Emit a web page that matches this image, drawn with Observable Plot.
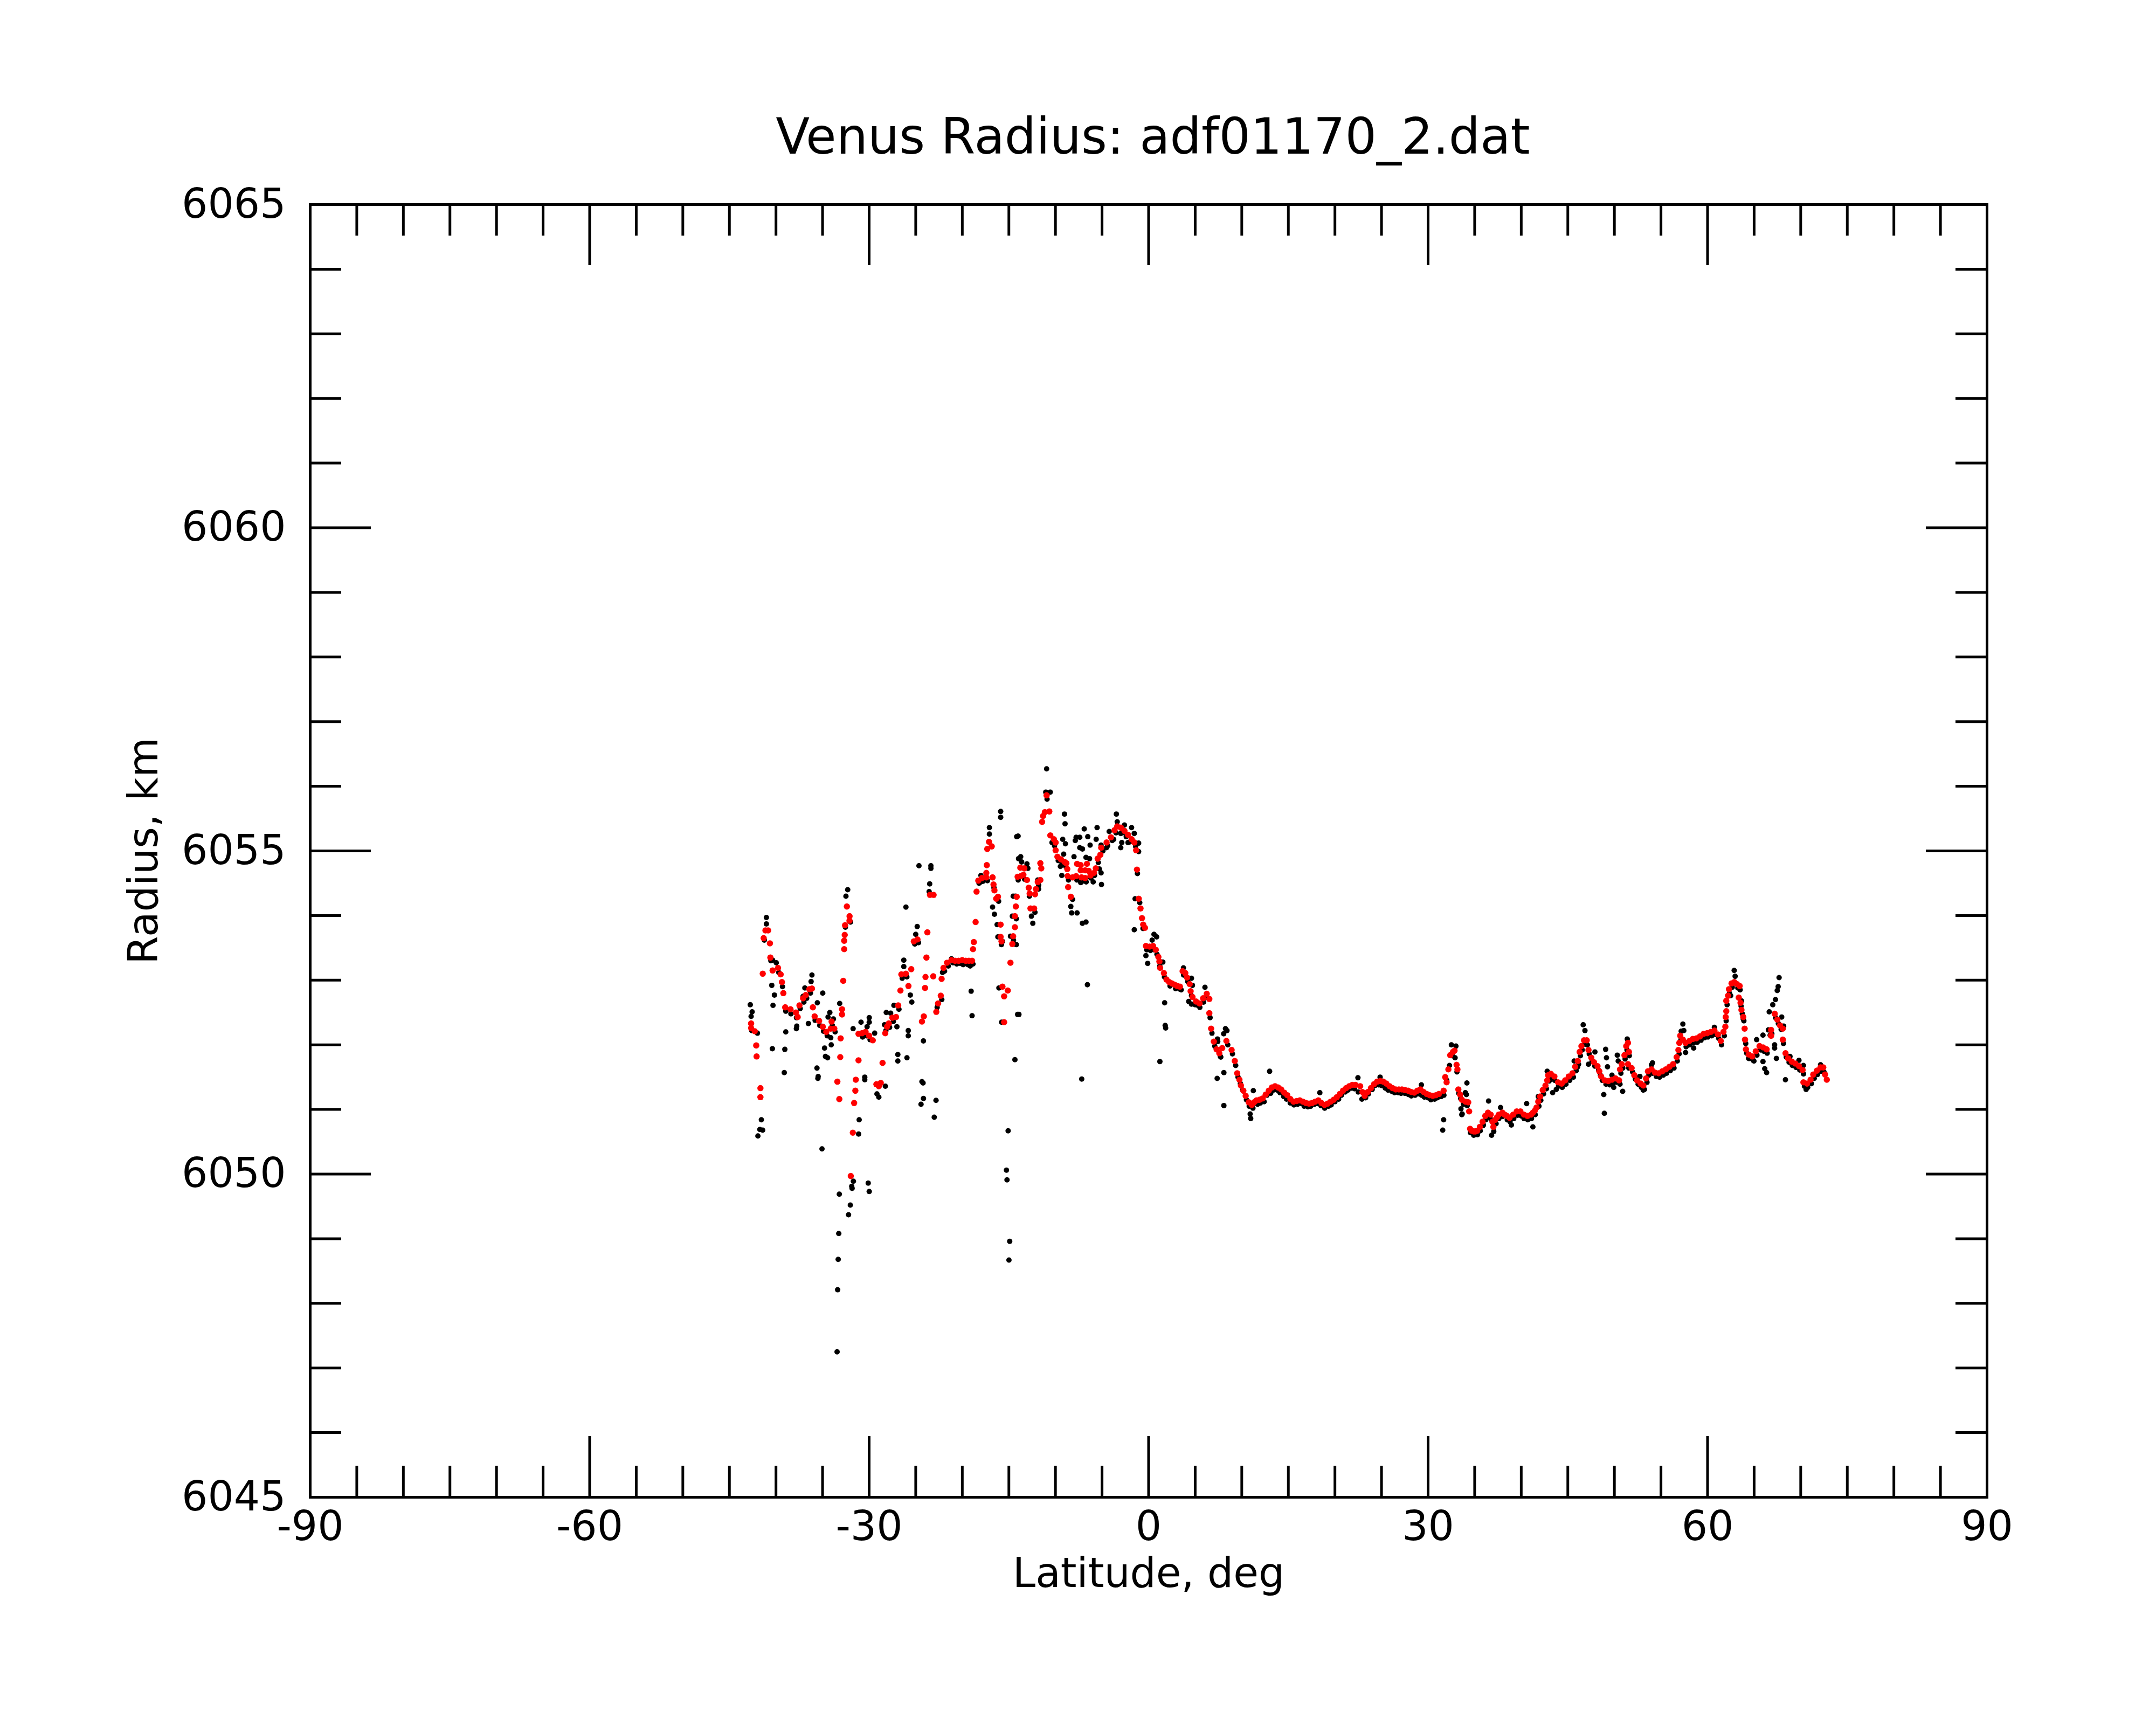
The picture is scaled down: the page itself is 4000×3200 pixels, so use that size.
<!DOCTYPE html>
<html>
<head>
<meta charset="utf-8">
<script src="https://cdn.jsdelivr.net/npm/d3@7"></script>
<script src="https://cdn.jsdelivr.net/npm/@observablehq/plot@0.6"></script>
<style>
  html, body { margin: 0; padding: 0; background: #ffffff; }
</style>
</head>
<body>
<div id="chart"></div>
<script>
// ---- texts ----
const title = "Venus Radius: adf01170_2.dat";
const xLabel = "Latitude, deg";
const yLabel = "Radius, km";

// ---- tick labels ----
const xTickLabels = [-90, -60, -30, 0, 30, 60, 90];
const yTickLabels = [6045, 6050, 6055, 6060, 6065];
const xMinorTicks = [-85,-80,-75,-70,-65,-55,-50,-45,-40,-35,-25,-20,-15,-10,-5,5,10,15,20,25,35,40,45,50,55,65,70,75,80,85];
const xMajorTicks = [-60, -30, 0, 30, 60];
const yMinorTicks = [6046,6047,6048,6049,6051,6052,6053,6054,6056,6057,6058,6059,6061,6062,6063,6064];
const yMajorTicks = [6050, 6055, 6060];

// ---- smoothed radius (red), [latitude deg, radius km] ----
const smoothed = [
[-42.67,6052.33],[-42.67,6052.26],[-42.28,6052.21],[-42.12,6051.99],[-42.08,6051.82],[-41.67,6051.33],[-41.67,6051.19],
[-41.42,6053.10],[-41.32,6053.65],[-41.13,6053.77],[-40.84,6053.77],[-40.65,6053.57],[-40.60,6053.35],[-40.36,6053.15],
[-39.78,6053.19],[-39.50,6053.09],[-39.36,6052.97],[-39.21,6052.80],[-39.01,6052.58],[-38.44,6052.55],[-37.86,6052.50],
[-37.67,6052.43],[-37.48,6052.61],[-37.09,6052.72],[-36.80,6052.77],[-36.42,6052.86],[-36.14,6052.87],[-36.04,6052.58],
[-35.85,6052.44],[-35.37,6052.37],[-34.98,6052.28],[-34.60,6052.20],[-34.12,6052.25],[-34.03,6052.36],[-33.74,6052.25],
[-33.41,6051.43],[-33.20,6051.16],[-33.10,6051.81],[-33.06,6052.10],[-32.91,6052.55],[-32.91,6052.47],[-32.78,6052.99],
[-32.68,6053.48],[-32.68,6053.61],[-32.62,6053.70],[-32.58,6053.85],[-32.39,6054.14],[-32.10,6053.99],[-32.11,6053.92],
[-31.97,6049.97],[-31.75,6050.64],[-31.61,6051.10],[-31.48,6051.29],[-31.43,6051.46],[-31.14,6051.76],[-31.14,6052.17],
[-30.76,6052.18],[-30.38,6052.20],[-30.00,6052.14],[-29.61,6052.07],[-29.22,6051.39],[-28.96,6051.36],[-28.75,6051.41],
[-28.56,6051.72],[-28.27,6052.18],[-28.08,6052.28],[-27.89,6052.33],[-27.51,6052.42],[-27.11,6052.43],[-26.88,6052.61],
[-26.64,6052.84],[-26.54,6053.09],[-26.06,6053.10],[-25.78,6052.91],[-25.48,6053.17],[-25.20,6053.60],[-24.81,6053.63],
[-24.33,6052.36],[-24.13,6052.44],[-24.00,6052.88],[-23.95,6053.05],[-23.85,6053.35],[-23.75,6053.74],[-23.47,6054.32],
[-23.08,6054.32],[-23.12,6053.06],[-22.79,6052.51],[-22.60,6052.64],[-22.31,6052.76],[-22.22,6053.02],[-22.02,6053.19],
[-21.64,6053.27],[-21.16,6053.31],[-20.78,6053.30],[-20.39,6053.30],[-20.01,6053.31],[-19.63,6053.30],[-19.29,6053.30],[-18.95,6053.30],
[-18.85,6053.48],[-18.76,6053.59],[-18.57,6053.90],[-18.47,6054.37],[-18.28,6054.54],[-17.90,6054.58],[-17.42,6054.59],
[-17.42,6054.66],[-17.37,6054.78],[-17.32,6055.03],[-17.13,6055.14],[-16.84,6055.07],[-16.75,6054.59],[-16.65,6054.48],
[-16.55,6054.39],[-16.36,6054.26],[-16.17,6054.29],[-15.89,6053.86],[-15.89,6053.67],[-15.79,6053.60],[-15.69,6052.90],
[-15.51,6052.75],[-15.12,6052.84],[-15.51,6052.35],[-14.83,6053.27],[-14.63,6053.56],[-14.54,6053.68],[-14.35,6053.82],
[-14.35,6053.99],[-14.25,6054.14],[-14.16,6054.29],[-14.06,6054.60],[-13.77,6054.74],[-13.73,6054.61],[-13.44,6054.63],
[-13.34,6054.73],[-13.06,6054.55],[-12.87,6054.43],[-12.77,6054.34],[-12.68,6054.11],[-12.29,6054.11],[-12.19,6054.33],
[-12.09,6054.41],[-11.90,6054.52],[-11.62,6054.55],[-11.62,6054.81],[-11.52,6054.73],[-11.43,6055.45],[-11.33,6055.54],
[-11.14,6055.60],[-10.95,6055.86],[-10.66,6055.61],[-10.55,6055.24],[-10.17,6055.18],[-9.98,6055.13],[-9.98,6055.01],
[-9.79,6054.91],[-9.41,6054.87],[-9.03,6054.83],[-8.83,6054.81],[-8.73,6054.72],[-8.69,6054.61],[-8.64,6054.44],
[-8.35,6054.29],[-8.16,6054.59],[-7.78,6054.61],[-7.68,6054.80],[-7.29,6054.78],[-7.29,6054.70],[-7.20,6054.59],
[-6.81,6054.58],[-6.81,6054.70],[-6.62,6054.80],[-6.43,6054.69],[-6.24,6054.62],[-5.86,6054.66],[-5.67,6054.73],
[-5.47,6054.88],[-5.18,6054.94],[-5.09,6055.05],[-4.51,6055.13],[-4.04,6055.21],[-3.66,6055.32],[-3.37,6055.38],
[-2.98,6055.36],[-2.59,6055.31],[-2.21,6055.25],[-1.82,6055.18],[-1.53,6055.13],[-1.34,6055.01],[-1.25,6054.71],
[-1.06,6054.26],[-0.87,6054.11],[-0.71,6053.96],[-0.58,6053.86],[-0.39,6053.81],[-0.29,6053.53],[0.10,6053.52],
[0.48,6053.53],[0.77,6053.47],[1.05,6053.36],[1.16,6053.29],[1.24,6053.19],[1.64,6053.11],[1.92,6053.01],
[2.21,6052.97],[2.50,6052.95],[2.79,6052.93],[3.08,6052.91],[3.36,6052.90],[3.65,6053.14],[3.94,6053.11],[4.13,6053.04],[4.41,6052.94],
[4.51,6052.83],[4.71,6052.74],[5.09,6052.67],[5.47,6052.64],[5.85,6052.72],[6.24,6052.79],[6.52,6052.71],
[6.52,6052.49],[6.71,6052.25],[7.00,6052.05],[7.30,6051.93],[7.59,6051.87],[7.90,6051.95],[8.35,6052.06],[8.91,6051.92],[9.25,6051.75],
[9.51,6051.56],[9.75,6051.46],[9.91,6051.37],[10.17,6051.29],[10.42,6051.21],[10.75,6051.11],[11.08,6051.07],[11.32,6051.11],[11.57,6051.14],
[11.90,6051.15],[12.24,6051.17],[12.57,6051.23],[12.90,6051.29],[13.24,6051.34],[13.57,6051.36],[13.90,6051.34],[14.23,6051.31],[14.56,6051.26],[14.89,6051.22],
[15.22,6051.16],[15.56,6051.12],[15.89,6051.13],[16.23,6051.14],[16.56,6051.12],[16.89,6051.10],[17.22,6051.09],[17.55,6051.10],[17.88,6051.12],[18.22,6051.14],
[18.55,6051.10],[18.88,6051.07],[19.21,6051.09],[19.54,6051.12],[19.87,6051.15],[20.21,6051.19],[20.54,6051.24],[20.87,6051.29],[21.20,6051.33],[21.54,6051.36],
[21.87,6051.38],[22.20,6051.38],[22.71,6051.36],[22.95,6051.27],[23.20,6051.21],[23.53,6051.27],[23.86,6051.33],[24.20,6051.39],[24.53,6051.43],[24.86,6051.44],
[25.19,6051.43],[25.52,6051.40],[25.86,6051.36],[26.19,6051.33],[26.53,6051.31],[26.86,6051.31],[27.19,6051.31],[27.52,6051.30],[27.86,6051.29],[28.19,6051.27],
[28.52,6051.26],[28.85,6051.29],[29.18,6051.31],[29.52,6051.27],[29.85,6051.24],[30.18,6051.22],[30.51,6051.21],[30.84,6051.22],[31.17,6051.24],[31.67,6051.29],
[31.84,6051.50],[31.99,6051.42],[32.18,6051.62],[32.38,6051.84],[32.67,6051.89],[32.84,6051.91],[33.06,6051.69],
[33.15,6051.62],[33.25,6051.31],[33.44,6051.23],[33.63,6051.15],[34.02,6051.12],[34.31,6051.11],[34.41,6050.97],
[34.51,6050.70],[34.70,6050.67],[34.89,6050.66],[35.08,6050.66],[35.27,6050.67],[35.56,6050.73],[35.85,6050.81],[36.14,6050.90],[36.43,6050.95],
[36.72,6050.92],[36.91,6050.81],[37.01,6050.73],[37.20,6050.84],[37.40,6050.88],[37.59,6050.92],[37.98,6050.95],[38.22,6050.92],[38.46,6050.90],
[38.75,6050.87],[39.14,6050.92],[39.52,6050.97],[39.91,6050.97],[40.29,6050.92],[40.67,6050.90],[41.06,6050.92],
[41.25,6050.95],[41.45,6050.98],[41.64,6051.03],[41.83,6051.12],[42.03,6051.20],[42.31,6051.30],[42.60,6051.37],[42.79,6051.45],
[42.89,6051.53],[43.18,6051.55],[43.56,6051.51],[43.95,6051.42],[44.34,6051.40],[44.72,6051.45],[45.10,6051.51],
[45.50,6051.56],[45.79,6051.66],[46.07,6051.75],[46.27,6051.89],[46.46,6051.98],[46.74,6052.07],[47.03,6052.07],
[47.22,6051.92],[47.52,6051.80],[47.81,6051.73],[48.19,6051.67],[48.38,6051.59],[48.58,6051.51],[48.96,6051.45],
[49.35,6051.44],[49.74,6051.46],[50.12,6051.48],[50.50,6051.45],[50.60,6051.62],[50.79,6051.70],[51.08,6051.84],
[51.27,6051.98],[51.46,6052.03],[51.56,6051.89],[51.46,6051.70],[51.85,6051.64],[52.14,6051.53],[52.43,6051.45],
[52.82,6051.40],[53.11,6051.37],[53.40,6051.48],[53.60,6051.59],[53.99,6051.62],[54.37,6051.57],[54.75,6051.56],
[55.14,6051.59],[55.52,6051.62],[55.91,6051.66],[56.30,6051.70],[56.68,6051.81],[56.87,6051.92],[56.97,6052.03],
[57.07,6052.14],[57.35,6052.08],[57.64,6052.03],[58.04,6052.06],[58.42,6052.09],[58.80,6052.10],[59.19,6052.13],[59.58,6052.17],
[59.96,6052.18],[60.36,6052.20],[60.74,6052.22],[61.12,6052.16],[61.42,6052.06],[61.71,6052.20],[61.91,6052.28],
[61.95,6052.43],[62.01,6052.52],[62.01,6052.68],[62.20,6052.76],[62.30,6052.86],[62.58,6052.95],[62.87,6052.97],
[63.16,6052.94],[63.45,6052.91],[63.35,6052.73],[63.54,6052.65],[63.64,6052.54],[63.83,6052.43],[63.98,6052.25],
[64.02,6052.08],[64.12,6051.93],[64.42,6051.85],[64.80,6051.82],[65.18,6051.90],[65.58,6051.98],[65.96,6051.96],
[66.34,6051.93],[66.82,6052.14],[66.82,6052.23],[67.21,6052.48],[67.49,6052.39],[67.78,6052.30],[68.08,6052.25],
[68.08,6052.08],[68.37,6051.87],[68.65,6051.79],[69.04,6051.74],[69.42,6051.71],[69.82,6051.67],[70.20,6051.61],
[70.29,6051.42],[70.68,6051.40],[71.06,6051.46],[71.35,6051.54],[71.74,6051.60],[72.13,6051.65],[72.42,6051.65],
[72.61,6051.54],[72.80,6051.46]
];

// ---- raw radius (black): scattered points ----
const rawScatter = [
[-42.76,6052.62],[-42.56,6052.51],[-42.67,6052.44],[-41.99,6052.18],[-41.03,6053.97],[-41.03,6053.87],[-40.36,6053.31],
[-39.97,6053.27],[-40.45,6052.92],[-40.17,6052.77],[-40.32,6052.61],[-38.95,6052.20],[-40.39,6051.94],[-39.05,6051.93],
[-39.11,6051.57],[-37.77,6052.29],[-37.81,6052.25],[-36.14,6053.08],[-36.23,6052.98],[-36.90,6052.88],[-37.09,6052.75],
[-36.52,6052.33],[-34.98,6052.80],[-35.56,6052.65],[-34.22,6052.50],[-34.41,6052.43],[-33.83,6052.40],[-34.12,6052.11],
[-34.07,6052.00],[-34.79,6051.95],[-34.69,6051.82],[-34.46,6051.80],[-35.60,6051.64],[-35.47,6051.51],[-33.16,6052.64],
[-32.30,6054.40],[-32.49,6054.30],[-31.72,6052.25],[-30.87,6052.35],[-29.99,6052.42],[-29.99,6052.35],[-30.22,6052.28],
[-29.41,6052.18],[-30.47,6051.50],[-28.16,6052.50],[-27.69,6052.49],[-28.35,6052.31],[-27.02,6052.28],[-26.92,6051.85],
[-26.92,6051.75],[-25.94,6051.80],[-25.80,6052.22],[-25.80,6052.14],[-27.34,6052.61],[-26.28,6053.31],[-26.28,6053.21],
[-25.58,6052.77],[-25.42,6052.66],[-26.05,6054.13],[-24.65,6054.77],[-23.37,6054.77],[-23.37,6054.73],[-23.50,6054.49],
[-23.56,6054.37],[-24.84,6053.83],[-25.00,6053.71],[-24.17,6052.06],[-24.33,6051.43],[-21.16,6053.33],[-20.49,6053.27],
[-19.91,6053.24],[-19.15,6053.22],[-19.05,6052.83],[-18.95,6052.45],[-22.12,6053.12],[-18.00,6054.62],[-18.00,6054.52],
[-17.09,6055.36],[-17.09,6055.26],[-15.88,6055.61],[-15.88,6055.52],[-14.16,6055.22],[-16.75,6054.13],[-16.55,6054.02],
[-16.26,6053.86],[-16.18,6053.67],[-15.68,6053.60],[-16.07,6052.88],[-15.78,6052.35],[-14.54,6054.30],[-14.63,6053.99],
[-14.83,6053.68],[-14.44,6053.56],[-14.06,6052.47],[-14.35,6051.77],[-13.96,6054.88],
[-35.50,6051.48],[-30.47,6051.46],[-28.26,6051.36],[-29.16,6051.24],[-28.96,6051.19],[-24.21,6051.41],[-24.17,6051.17],
[-24.43,6051.08],[-22.82,6051.14],[-23.01,6050.88],[-31.07,6050.84],[-31.13,6050.62],[-41.57,6050.84],[-41.73,6050.69],
[-41.43,6050.68],[-41.94,6050.59],[-35.06,6050.39],[-31.69,6049.89],[-31.87,6049.81],[-31.83,6049.78],[-30.10,6049.86],
[-29.99,6049.73],[-33.20,6049.69],[-32.02,6049.52],[-32.21,6049.37],[-33.26,6049.08],[-33.32,6048.68],[-33.38,6048.21],
[-33.44,6047.25],[-15.08,6050.67],[-15.26,6050.06],[-15.20,6049.91],[-14.91,6048.96],[-14.99,6048.67],
[-10.95,6056.27],[-11.04,6055.91],[-10.56,6055.91],[-9.03,6055.57],[-8.97,6055.42],[-14.01,6055.23],[-6.91,6055.34],
[-5.53,6055.36],[-7.78,6055.21],[-7.39,6055.21],[-6.53,6055.22],[-5.63,6055.18],[-9.22,6055.18],[-8.93,6055.11],
[-7.87,6055.16],[-7.39,6055.05],[-7.10,6055.03],[-6.28,6055.09],[-10.37,6055.13],[-13.73,6054.91],[-13.63,6054.83],
[-13.06,6054.80],[-12.96,6054.73],[-9.12,6054.95],[-8.01,6054.91],[-6.72,6054.90],[-6.34,6054.88],[-9.47,6054.76],
[-5.29,6054.72],[-5.10,6054.66],[-9.32,6054.62],[-7.29,6054.51],[-5.95,6054.52],[-5.06,6054.48],[-11.81,6054.41],
[-11.90,6054.55],[-14.30,6054.30],[-8.16,6054.25],[-8.35,6054.14],[-8.26,6054.04],[-7.68,6054.04],[-12.58,6053.99],
[-12.43,6053.88],[-7.11,6053.88],[-6.72,6053.90],[-14.20,6053.55],[-3.46,6055.57],[-3.37,6055.45],[-2.59,6055.40],
[-2.99,6055.27],[-1.83,6055.36],[-1.54,6055.27],[-2.88,6055.13],[-2.99,6055.05],[-2.21,6055.13],[-1.07,6055.12],
[-1.07,6054.99],[-4.23,6055.30],[-3.75,6055.18],[-5.10,6055.09],[-4.52,6055.05],[-1.45,6054.26],[-1.54,6053.78],
[0.58,6053.71],[0.86,6053.67],[0.38,6053.62],[-0.29,6053.38],[-0.10,6053.26],[1.53,6053.28],[-6.57,6052.93],
[-13.92,6052.47],[1.72,6052.65],[1.78,6052.30],[3.74,6053.19],[4.60,6053.03],[4.70,6052.92],[3.35,6052.86],
[6.05,6052.89],[4.31,6052.67],[4.60,6052.63],[5.28,6052.61],[8.25,6052.25],[8.06,6052.17],[7.39,6052.09],
[12.99,6051.59],[11.24,6051.29],[10.90,6050.93],[10.96,6050.86],[18.38,6051.26],[22.47,6051.49],[24.85,6051.50],
[29.28,6051.38],[31.67,6050.84],[31.57,6050.68],[32.50,6052.00],[32.99,6051.98],[34.17,6051.41],[34.00,6051.26],
[33.66,6050.93],[36.49,6051.13],[36.82,6050.60],[8.08,6051.06],[7.36,6051.48],[8.08,6051.57],[1.21,6051.74],
[1.83,6052.26],[-7.18,6051.47],[8.41,6052.22],[7.42,6052.05],[7.75,6051.81],
[34.11,6051.23],[33.53,6051.01],[33.62,6050.92],[35.94,6050.76],[37.78,6051.03],[38.94,6050.76],[40.58,6051.09],
[41.25,6050.73],[41.83,6051.20],[42.79,6051.59],[43.37,6051.26],[43.76,6051.31],[45.68,6051.75],[46.06,6051.66],
[46.65,6052.31],[46.84,6052.22],[47.91,6051.89],[47.22,6051.70],[49.06,6051.93],[49.15,6051.80],[49.26,6051.66],
[48.86,6051.23],[48.92,6050.94],[49.74,6051.53],[49.93,6051.34],[50.31,6051.84],[50.41,6051.75],[50.89,6051.28],
[51.38,6052.09],[52.72,6051.51],[53.10,6051.30],[53.98,6051.69],[57.64,6051.88],[57.35,6052.32],[57.45,6052.22],
[58.51,6051.95],[60.73,6052.27],
[62.86,6053.15],[62.96,6053.06],[62.48,6052.76],[57.17,6052.21],[63.64,6052.68],[63.73,6052.48],[63.83,6052.40],
[67.68,6053.04],[67.58,6052.90],[67.48,6052.84],[67.29,6052.70],[67.00,6052.62],[66.62,6052.51],[67.96,6052.43],
[68.17,6052.29],[66.53,6052.23],[66.72,6052.15],[65.27,6052.08],[65.95,6052.15],[67.20,6052.00],[67.20,6051.95],
[67.39,6051.79],[65.95,6051.74],[66.14,6051.63],[66.34,6051.57],[64.41,6051.79],[64.98,6051.75],[68.36,6051.46],
[68.85,6051.82],[69.81,6051.76],[70.29,6051.68],[70.58,6051.31],[72.13,6051.69],[53.22,6051.31],[52.74,6051.51],
[54.09,6051.72],[58.14,6052.04]
];

// ---- raw radius (black): points lying along / just under the smoothed curve ----
const rawTrack = [
[-42.6,6052.22],[-41.25,6053.62],[-40.55,6053.30],[-39.7,6053.12],[-39.3,6052.90],[-38.95,6052.52],[-38.4,6052.48],
[-37.8,6052.42],[-37.4,6052.56],[-37.0,6052.66],[-36.7,6052.72],[-36.3,6052.80],[-35.8,6052.38],[-35.3,6052.30],
[-34.9,6052.21],[-34.5,6052.14],[-33.95,6052.30],[-33.65,6052.20],[-32.55,6053.82],[-32.0,6053.90],[-30.7,6052.12],
[-30.3,6052.14],[-29.9,6052.08],[-28.2,6052.22],[-27.8,6052.27],[-27.4,6052.36],[-26.8,6052.55],[-26.45,6053.03],
[-25.95,6053.05],[-25.1,6053.56],[-24.7,6053.58],[-22.7,6052.58],[-22.2,6052.70],[-21.9,6053.14],[-21.5,6053.22],
[-21.0,6053.27],[-20.6,6053.25],[-20.2,6053.26],[-19.8,6053.25],[-19.4,6053.24],[-18.85,6053.25],[-18.2,6054.50],
[-17.8,6054.53],[-17.3,6054.54],[-16.6,6054.43],[-16.1,6054.22],[-15.8,6053.55],[-14.5,6053.62],[-14.2,6053.95],
[-14.0,6054.55],[-13.3,6054.56],[-12.8,6054.30],[-12.2,6054.05],[-11.8,6054.47],
[-10.9,6055.80],[-10.1,6055.08],[-9.7,6054.85],[-9.3,6054.80],[-8.9,6054.76],[-8.6,6054.55],[-7.7,6054.55],[-7.2,6054.52],
[-6.7,6054.52],[-6.2,6054.58],[-5.8,6054.62],[-5.4,6054.82],[-4.9,6055.00],[-4.4,6055.08],[-3.9,6055.16],[-3.5,6055.28],
[-2.8,6055.28],[-2.4,6055.22],[-2.0,6055.14],[-1.4,6055.07],[-1.2,6054.65],[-0.95,6054.20],[-0.6,6053.80],[-0.2,6053.47],
[0.2,6053.46],[0.6,6053.47],[0.9,6053.40],[1.2,6053.22],[1.7,6053.05],[2.3,6052.91],[2.9,6052.87],[3.5,6052.85],
[3.75,6053.08],[4.2,6052.98],[4.6,6052.76],[5.0,6052.62],[5.5,6052.58],[5.9,6052.66],[6.3,6052.73],[6.6,6052.42],
[6.8,6052.18],[7.1,6051.98],[7.7,6051.82],[8.5,6052.00],[9.0,6051.86],[9.35,6051.68],[9.6,6051.50],[9.85,6051.40],
[10.1,6051.30],[10.5,6051.15],[10.8,6051.05],[11.2,6051.02],[11.7,6051.08],[12.0,6051.10],[12.4,6051.12],[12.7,6051.22],
[13.1,6051.25],[13.4,6051.30],[13.8,6051.30],[14.1,6051.26],[14.5,6051.20],[14.8,6051.16],[15.2,6051.10],[15.6,6051.07],
[16.0,6051.08],[16.4,6051.09],[16.7,6051.05],[17.1,6051.04],[17.4,6051.05],[17.8,6051.08],[18.1,6051.09],[18.5,6051.06],
[18.9,6051.02],[19.3,6051.05],[19.6,6051.07],[20.0,6051.12],[20.4,6051.16],[20.7,6051.22],[21.1,6051.27],[21.4,6051.30],
[21.8,6051.33],[22.1,6051.32],[22.5,6051.27],[22.9,6051.16],[23.3,6051.18],[23.6,6051.24],[24.0,6051.31],[24.3,6051.37],
[24.7,6051.38],[25.0,6051.37],[25.4,6051.33],[25.7,6051.30],[26.1,6051.28],[26.4,6051.26],[26.8,6051.26],[27.1,6051.25],
[27.5,6051.25],[27.9,6051.23],[28.2,6051.21],[28.6,6051.22],[28.9,6051.24],[29.3,6051.22],[29.6,6051.19],[30.0,6051.18],
[30.3,6051.15],[30.7,6051.16],[31.0,6051.18],[31.4,6051.20],[31.7,6051.22],[32.0,6051.45],[32.3,6051.68],[32.6,6051.83],
[32.9,6051.80],[33.1,6051.58],[33.3,6051.25],[33.5,6051.17],[33.8,6051.08],[34.2,6051.06],[34.55,6050.64],[34.9,6050.60],
[35.3,6050.61],[35.6,6050.67],[35.9,6050.75],[36.2,6050.84],[36.5,6050.88],[36.8,6050.84],[37.05,6050.66],[37.3,6050.78],
[37.6,6050.86],[38.0,6050.89],[38.5,6050.84],[38.8,6050.81],[39.2,6050.86],[39.6,6050.91],[40.0,6050.90],[40.3,6050.86],
[40.7,6050.84],[41.1,6050.86],[41.5,6050.92],[41.9,6051.05],[42.1,6051.14],[42.4,6051.24],[42.7,6051.32],[43.0,6051.44],
[43.3,6051.49],[43.6,6051.45],[44.0,6051.36],[44.4,6051.34],[44.8,6051.39],[45.2,6051.45],[45.6,6051.50],[45.9,6051.60],
[46.15,6051.70],[46.35,6051.83],[46.55,6051.92],[46.85,6052.01],[47.1,6052.00],[47.3,6051.86],[47.6,6051.74],[47.9,6051.67],
[48.3,6051.61],[48.5,6051.53],[48.7,6051.45],[49.1,6051.39],[49.5,6051.38],[49.8,6051.40],[50.2,6051.42],[50.6,6051.39],
[50.7,6051.56],[50.9,6051.64],[51.15,6051.78],[51.35,6051.92],[51.6,6051.83],[51.55,6051.64],[51.95,6051.58],[52.25,6051.47],
[52.55,6051.39],[52.9,6051.34],[53.2,6051.31],[53.5,6051.42],[53.7,6051.53],[54.1,6051.56],[54.5,6051.51],[54.85,6051.50],
[55.25,6051.53],[55.6,6051.56],[56.0,6051.60],[56.4,6051.64],[56.75,6051.75],[56.95,6051.86],[57.15,6052.08],[57.7,6051.97],
[58.1,6052.00],[58.5,6052.03],[58.9,6052.04],[59.3,6052.07],[59.7,6052.11],[60.05,6052.12],[60.45,6052.14],[60.85,6052.16],
[61.2,6052.10],[61.5,6052.00],[61.8,6052.14],[62.0,6052.37],[62.1,6052.62],[62.35,6052.80],[62.65,6052.89],[63.25,6052.88],
[63.5,6052.85],[63.6,6052.60],[63.9,6052.37],[64.1,6052.02],[64.2,6051.87],[64.5,6051.79],[64.9,6051.76],[65.3,6051.84],
[65.7,6051.92],[66.05,6051.90],[66.4,6051.87],[66.9,6052.17],[67.3,6052.42],[67.6,6052.33],[67.9,6052.24],[68.15,6052.02],
[68.45,6051.81],[68.75,6051.73],[69.1,6051.68],[69.5,6051.65],[69.9,6051.61],[70.3,6051.55],[70.4,6051.36],[70.75,6051.34],
[71.15,6051.40],[71.45,6051.48],[71.8,6051.54],[72.2,6051.59],[72.5,6051.58]
];

const raw = rawScatter.concat(rawTrack);

// ---- layout (pixels) ----
const W = 4000, H = 3200;
const mL = 575, mR = 314, mT = 379, mB = 423;
const frameW = W - mL - mR, frameH = H - mT - mB;
const majorLen = 113, minorLen = 58, lw = 5;
const font = "DejaVu Sans";

const chart = Plot.plot({
  width: W,
  height: H,
  marginLeft: mL,
  marginRight: mR,
  marginTop: mT,
  marginBottom: mB,
  x: {domain: [-90, 90]},
  y: {domain: [6045, 6065]},
  style: {fontFamily: font, fontSize: "76px", background: "#ffffff", color: "#000000"},
  marks: [
    // data
    Plot.dot(raw, {x: d => d[0], y: d => d[1], r: 5, fill: "#000000"}),
    Plot.dot(smoothed, {x: d => d[0], y: d => d[1], r: 5.8, fill: "#ff0000"}),
    // inward ticks: bottom / top
    Plot.ruleX(xMinorTicks, {x: d => d, insetTop: frameH - minorLen, stroke: "#000", strokeWidth: lw}),
    Plot.ruleX(xMajorTicks, {x: d => d, insetTop: frameH - majorLen, stroke: "#000", strokeWidth: lw}),
    Plot.ruleX(xMinorTicks, {x: d => d, insetBottom: frameH - minorLen, stroke: "#000", strokeWidth: lw}),
    Plot.ruleX(xMajorTicks, {x: d => d, insetBottom: frameH - majorLen, stroke: "#000", strokeWidth: lw}),
    // inward ticks: left / right
    Plot.ruleY(yMinorTicks, {y: d => d, insetRight: frameW - minorLen, stroke: "#000", strokeWidth: lw}),
    Plot.ruleY(yMajorTicks, {y: d => d, insetRight: frameW - majorLen, stroke: "#000", strokeWidth: lw}),
    Plot.ruleY(yMinorTicks, {y: d => d, insetLeft: frameW - minorLen, stroke: "#000", strokeWidth: lw}),
    Plot.ruleY(yMajorTicks, {y: d => d, insetLeft: frameW - majorLen, stroke: "#000", strokeWidth: lw}),
    Plot.frame({stroke: "#000", strokeWidth: lw}),
    // tick labels
    Plot.axisX({ticks: xTickLabels, anchor: "bottom", tickSize: 0, tickPadding: 26, fontSize: 76,
                tickFormat: d => String(d), label: null}),
    Plot.axisY({ticks: yTickLabels, anchor: "left", tickSize: 0, tickPadding: 45, fontSize: 76,
                tickFormat: d => String(d), label: null}),
    // axis titles and chart title
    Plot.text([xLabel], {text: d => d, frameAnchor: "bottom", dy: 142, textAnchor: "middle", lineAnchor: "middle", fontSize: 76, fill: "#000"}),
    Plot.text([yLabel], {text: d => d, frameAnchor: "left", dx: -308, rotate: -90, textAnchor: "middle", lineAnchor: "middle", fontSize: 76, fill: "#000"}),
    Plot.text([title], {text: d => d, frameAnchor: "top", dx: 8, dy: -124, textAnchor: "middle", lineAnchor: "middle", fontSize: 92, fill: "#000"})
  ]
});

document.getElementById("chart").appendChild(chart);
</script>
</body>
</html>
